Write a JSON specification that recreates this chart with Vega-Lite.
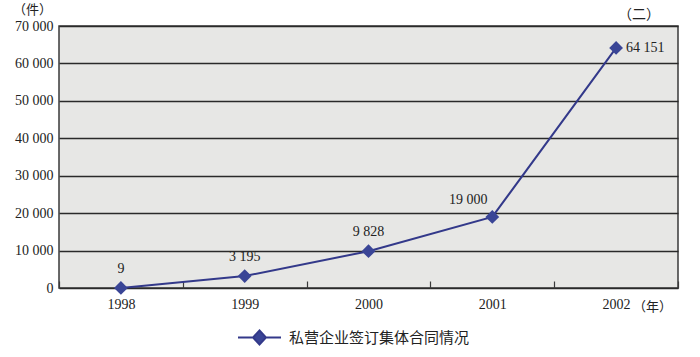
{
  "$schema": "https://vega.github.io/schema/vega-lite/v6.json",
  "width": 619,
  "height": 262,
  "autosize": {"type": "none"},
  "padding": {"left": 59, "top": 26, "right": 22, "bottom": 69},
  "background": "#ffffff",
  "config": {
    "locale": {"number": {"decimal": ".", "thousands": " ", "grouping": [3], "currency": ["", ""]}},
    "view": {"fill": "#e7e7e5", "stroke": "#3a3a3a", "strokeWidth": 1.5},
    "font": "Liberation Serif"
  },
  "title": {
    "text": "（二）",
    "anchor": "end",
    "frame": "group",
    "dx": -18,
    "dy": 24,
    "offset": 5,
    "font": "Noto Sans CJK SC",
    "fontSize": 14,
    "fontWeight": "normal",
    "color": "#222222"
  },
  "data": {
    "values": [
      {"year": "1998", "value": 9, "series": "私营企业签订集体合同情况"},
      {"year": "1999", "value": 3195, "series": "私营企业签订集体合同情况"},
      {"year": "2000", "value": 9828, "series": "私营企业签订集体合同情况"},
      {"year": "2001", "value": 19000, "series": "私营企业签订集体合同情况"},
      {"year": "2002", "value": 64151, "series": "私营企业签订集体合同情况"}
    ]
  },
  "encoding": {
    "x": {
      "field": "year",
      "type": "ordinal",
      "bandPosition": 0.5,
      "scale": {"type": "band", "paddingInner": 0, "paddingOuter": 0},
      "axis": {
        "title": "（年）",
        "titleFont": "Noto Sans CJK SC",
        "titleFontSize": 13,
        "titleFontWeight": "normal",
        "titleColor": "#222222",
        "titleX": 593,
        "titleY": 18,
        "titleAlign": "center",
        "titleBaseline": "middle",
        "labelAngle": 0,
        "labelFont": "Liberation Serif",
        "labelFontSize": 14,
        "labelColor": "#222222",
        "labelPadding": 16,
        "tickBand": "extent",
        "tickSize": -7,
        "tickColor": "#3a3a3a",
        "tickWidth": 1.2,
        "domain": false,
        "grid": false
      }
    },
    "y": {
      "field": "value",
      "type": "quantitative",
      "scale": {"domain": [0, 70000]},
      "axis": {
        "title": "（件）",
        "titleFont": "Noto Sans CJK SC",
        "titleFontSize": 13,
        "titleFontWeight": "normal",
        "titleColor": "#222222",
        "titleAngle": 0,
        "titleX": -27,
        "titleY": -17,
        "titleAlign": "center",
        "titleBaseline": "middle",
        "values": [0, 10000, 20000, 30000, 40000, 50000, 60000, 70000],
        "labelExpr": "format(datum.value, ',')",
        "labelFont": "Liberation Serif",
        "labelFontSize": 14,
        "labelColor": "#222222",
        "labelPadding": 6,
        "ticks": false,
        "domain": false,
        "grid": true,
        "gridColor": "#2a2a2a",
        "gridWidth": 1.5
      }
    }
  },
  "layer": [
    {
      "mark": {"type": "line", "strokeWidth": 2},
      "encoding": {
        "color": {
          "field": "series",
          "type": "nominal",
          "scale": {"range": ["#33398a"]},
          "legend": {
            "title": null,
            "orient": "none",
            "legendX": 178,
            "legendY": 289,
            "symbolType": "M-1,0L-0.3,0M0.3,0L1,0M0,-0.33L0.3,0L0,0.33L-0.3,0Z",
            "symbolSize": 1849,
            "symbolFillColor": "#3a4596",
            "symbolStrokeColor": "#33398a",
            "symbolStrokeWidth": 2,
            "labelFont": "Noto Sans CJK SC",
            "labelFontSize": 15,
            "labelLimit": 400,
            "labelColor": "#222222",
            "labelOffset": 7
          }
        }
      }
    },
    {
      "mark": {"type": "point", "shape": "diamond", "filled": true, "size": 190, "color": "#3a4596", "opacity": 1}
    },
    {
      "transform": [{"filter": "datum.year <= '2000'"}],
      "mark": {"type": "text", "dy": -19, "fontSize": 14, "font": "Liberation Serif", "color": "#222222"},
      "encoding": {"text": {"field": "value", "type": "quantitative", "format": ","}}
    },
    {
      "transform": [{"filter": "datum.year == '2001'"}],
      "mark": {"type": "text", "dx": -24, "dy": -17, "fontSize": 14, "font": "Liberation Serif", "color": "#222222"},
      "encoding": {"text": {"field": "value", "type": "quantitative", "format": ","}}
    },
    {
      "transform": [{"filter": "datum.year == '2002'"}],
      "mark": {"type": "text", "align": "left", "dx": 10, "dy": 0, "fontSize": 14, "font": "Liberation Serif", "color": "#222222"},
      "encoding": {"text": {"field": "value", "type": "quantitative", "format": ","}}
    }
  ]
}
